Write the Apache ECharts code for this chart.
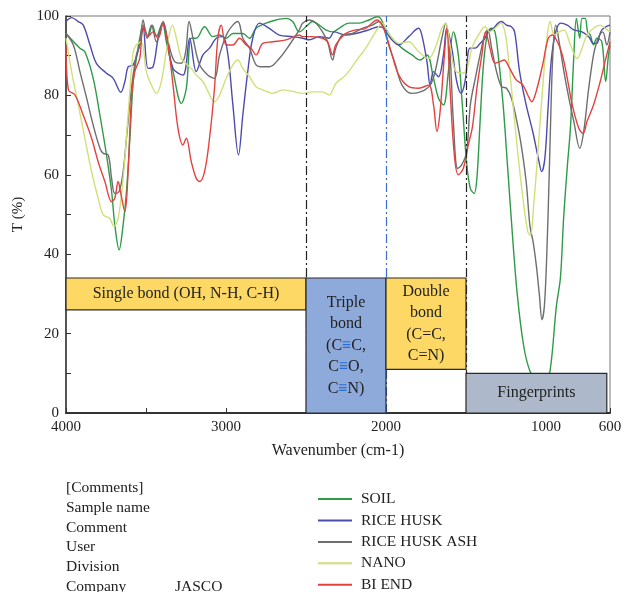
<!DOCTYPE html>
<html><head><meta charset="utf-8">
<script src="https://cdn.jsdelivr.net/npm/echarts@6/dist/echarts.min.js"></script>
<style>html,body{margin:0;padding:0;background:#fff}#c{width:632px;height:592px}</style>
</head><body><div id="c"></div>
<script>
const seriesNames = ['SOIL', 'RICE HUSK', 'RICE HUSK ASH', 'NANO', 'BI END'];
const seriesColors = ['#2f9a48', '#4b4cae', '#6e6e6e', '#d2df78', '#e5413f'];

// [wavenumber (cm-1), T (%)]
const soil = [[4000,95.6],[3913,91.9],[3882,91],[3830,84.3],[3788,75],[3747,65],[3715,55.8],[3695,47.4],[3668,41.1],[3643,47.4],[3622,55.8],[3601,69],[3580,83.5],[3560,89.3],[3539,94.4],[3518,97.7],[3487,94.8],[3460,97.7],[3435,94.8],[3398,98.2],[3373,93.5],[3331,86],[3279,78],[3248,81.8],[3217,94.4],[3186,94.4],[3134,97.3],[3082,94.8],[3040,95.2],[2999,94.4],[2957,95.6],[2895,95.6],[2853,94.4],[2812,96.9],[2750,98.2],[2687,99],[2625,99.4],[2583,98.6],[2542,96],[2490,97.7],[2459,98.6],[2417,97.7],[2376,96.5],[2334,96],[2293,96.9],[2231,98.2],[2169,98.2],[2107,99],[2055,99.8],[2034,99.4],[2003,96.9],[1962,94.4],[1900,91.9],[1838,90.2],[1786,88.9],[1744,90.2],[1703,84.3],[1672,79.3],[1641,77.6],[1610,86],[1579,96],[1548,90.2],[1523,77.6],[1496,63],[1473,56.6],[1449,55.3],[1432,59.1],[1412,73.4],[1391,87.7],[1364,96],[1340,96.9],[1319,96],[1299,90.2],[1268,77.6],[1240,62],[1210,45],[1180,30],[1140,17],[1100,10.5],[1070,9.5],[1000,9.5],[975,10.5],[935,27],[910,34],[890,49],[867,62],[847,72],[826,90],[810,99.4],[789,94.4],[775,99.4],[755,99.4],[740,96],[723,95.2],[703,92.7],[682,94.4],[651,93.5],[627,83.5],[610,90],[600,92.7]];

const riceHusk = [[4000,98.6],[3965,99.6],[3923,98.6],[3892,97.7],[3850,92.7],[3809,88],[3747,85.6],[3705,84.3],[3657,80.8],[3632,83.5],[3612,87.2],[3580,87.7],[3539,92.7],[3518,96.9],[3487,86.8],[3456,87.2],[3424,94.4],[3393,98.2],[3373,95.2],[3331,86.8],[3269,85.1],[3227,94.4],[3186,86],[3144,90.2],[3103,91.9],[3061,94.4],[3020,94.8],[2988,90.2],[2957,77.6],[2922,65],[2895,75],[2864,86],[2833,94.4],[2791,98.2],[2729,96.9],[2667,95.2],[2583,94.8],[2521,94.4],[2479,94],[2417,94.8],[2355,94.4],[2324,96],[2252,95.2],[2190,95.6],[2107,96.5],[2045,97.3],[2014,96.9],[1972,94.4],[1920,92.7],[1858,94.8],[1796,96.9],[1776,95.2],[1744,88.5],[1724,82.6],[1703,86],[1672,84.7],[1641,90.2],[1620,96.9],[1589,91.9],[1558,83.5],[1531,80.5],[1506,83.5],[1475,91.9],[1442,91.9],[1412,93.1],[1381,94.4],[1364,96],[1329,96.9],[1299,98.2],[1278,98.6],[1247,97.7],[1216,97.3],[1196,96],[1165,86],[1124,77.6],[1083,70.9],[1048,64.2],[1027,60.8],[1007,64.2],[986,77.6],[966,89.3],[939,96],[908,98.2],[867,97.7],[826,96.5],[775,96],[733,94.8],[703,93.1],[682,93.1],[665,95.2],[651,96.5],[625,97.3],[600,97.7]];

const riceHuskAsh = [[4000,95.6],[3954,92.7],[3913,86],[3871,79.3],[3830,72.5],[3788,66.7],[3767,65.4],[3736,65],[3715,59.1],[3695,55.3],[3668,55.8],[3643,60.8],[3622,69.2],[3591,81.8],[3560,90.2],[3539,92.7],[3518,99],[3493,94.4],[3466,97.7],[3435,93.5],[3393,98.6],[3362,93.5],[3321,88.5],[3279,88.1],[3252,91],[3231,98.6],[3206,94.4],[3165,87.7],[3113,85.1],[3072,84.3],[3040,90.2],[2988,96],[2926,98.6],[2895,94.4],[2853,91.9],[2812,87.7],[2770,87.2],[2729,87.2],[2667,89.3],[2604,92.7],[2542,96.5],[2521,98.2],[2479,99],[2438,98.2],[2397,96],[2365,93.5],[2334,88.9],[2314,91.9],[2272,95.2],[2210,95.6],[2148,96.9],[2086,97.7],[2045,98.6],[2014,96.9],[1983,92.7],[1941,87.7],[1900,82.6],[1838,80.5],[1776,81],[1724,82.6],[1693,86],[1651,94.4],[1627,98.2],[1600,90.2],[1579,73.4],[1552,61.6],[1527,62.5],[1496,65.8],[1473,77.6],[1442,84.3],[1412,90.2],[1381,95.6],[1364,96.5],[1340,91.9],[1309,86],[1278,82.2],[1247,81.8],[1216,79.3],[1186,74.2],[1155,67.5],[1124,58.3],[1100,47],[1080,43],[1060,37],[1042,30],[1025,23.5],[1010,27],[995,40],[980,60],[968,78],[955,92],[939,97.7],[918,93.5],[888,86],[857,79.3],[826,73.4],[789,66.7],[764,71],[733,81.8],[703,90.2],[682,93.5],[665,95.2],[645,96],[620,92.7],[600,96]];

const nano = [[4000,94.4],[3965,86],[3923,77.6],[3882,69.2],[3840,60.8],[3799,54.1],[3767,49.9],[3726,49],[3701,47],[3674,49],[3643,59.1],[3612,75],[3580,91],[3560,92.7],[3529,93.5],[3498,86],[3466,82.6],[3435,80.5],[3404,83.5],[3373,91],[3335,97.7],[3310,94.4],[3279,89.3],[3252,88.1],[3217,86.8],[3186,85.1],[3144,83.5],[3113,81],[3072,78.4],[3040,80.1],[2999,84.3],[2957,87.7],[2926,88.9],[2895,86.8],[2853,84.7],[2812,82.2],[2770,81.4],[2708,80.5],[2646,81.4],[2583,81],[2521,80.5],[2459,80.9],[2397,80.9],[2355,80.1],[2314,83],[2252,85.1],[2190,88.5],[2127,91.9],[2065,96],[2024,98.2],[1983,95.6],[1920,93.1],[1858,93.5],[1796,91],[1734,89.3],[1693,91.9],[1651,96.9],[1627,98.2],[1600,92.7],[1569,86.4],[1527,85.6],[1496,86.4],[1463,91.9],[1422,95.2],[1381,97.3],[1350,96],[1319,96.9],[1282,98.2],[1257,96],[1237,90.2],[1206,77.6],[1175,65],[1144,54.1],[1114,45.7],[1097,44.8],[1077,52.4],[1052,65],[1021,81.8],[994,94.4],[974,98.6],[949,95.2],[918,96],[888,96.5],[847,92.7],[805,89.3],[775,91.9],[744,95.2],[703,96.9],[661,97.7],[631,96.9],[600,96]];

const biEnd = [[4000,92.7],[3985,81.4],[3944,80.1],[3892,75],[3840,69.2],[3799,63.3],[3757,58.3],[3715,53.2],[3695,54.1],[3674,58.3],[3660,55.8],[3632,50.7],[3612,60.8],[3591,79.3],[3570,86],[3539,89.3],[3518,97.3],[3487,94.8],[3456,96],[3424,94.4],[3393,98.2],[3362,92.7],[3331,82.6],[3300,71.7],[3269,67.5],[3248,69.2],[3217,63.3],[3186,59.1],[3165,58.3],[3134,60.8],[3103,69.2],[3072,81.8],[3051,94.4],[3030,97.7],[2999,92.7],[2957,92.7],[2916,94.4],[2874,92.7],[2843,91.9],[2812,90.2],[2770,93.1],[2708,93.5],[2625,94],[2542,95.2],[2521,94.8],[2459,94.8],[2397,94.4],[2365,93.5],[2334,90.2],[2314,92.7],[2252,95.6],[2190,96.5],[2127,96.9],[2055,99],[2024,97.7],[1993,94.4],[1962,90.2],[1920,85.1],[1858,82.2],[1796,81.8],[1734,82.6],[1703,77.6],[1682,70.9],[1662,75.9],[1635,90.2],[1620,96.9],[1600,81.8],[1573,65],[1548,60],[1517,61.6],[1486,67.5],[1460,72],[1432,81.8],[1401,90.2],[1377,96],[1350,91.9],[1319,88.1],[1288,88.5],[1262,88.9],[1227,86.8],[1186,83.9],[1144,82.6],[1114,80.1],[1089,78.4],[1062,80.9],[1021,87.7],[986,94.4],[960,95.2],[929,93.5],[898,90.2],[867,84.3],[836,77.6],[795,71.7],[768,70.4],[744,73.4],[703,77.6],[661,83.5],[631,88.5],[600,93.5]];

const seriesData = [soil, riceHusk, riceHuskAsh, nano, biEnd];

const xTickValues = [4000, 3500, 3000, 2500, 2000, 1500, 1000, 600];
const xLabelValues = [4000, 3000, 2000, 1000, 600];
const regionLineValues = [2500, 2000, 1500];
const regionLineColors = ['#222', '#3a6fd0', '#222'];

// bond regions: [x from, x to, T from, T to]
const regionBounds = [[4000, 2500, 26, 34], [2500, 2000, 0, 34], [2000, 1500, 11, 34], [1500, 620, 0, 10]];
const regionFills = ['#fdd865', '#8eaadb', '#fdd865', '#adb9ca'];
const regionTexts = [
  'Single bond (OH, N-H, C-H)',
  'Triple\nbond\n(C{e|≡}C,\nC{e|≡}O,\nC{e|≡}N)',
  'Double\nbond\n(C=C,\nC=N)',
  'Fingerprints'
];

const FONT = '"Liberation Serif", "DejaVu Serif", serif';

const chart = echarts.init(document.getElementById('c'), null, {renderer: 'canvas'});

const lineSeries = seriesNames.map((n, i) => ({
  name: n, type: 'line', data: seriesData[i], showSymbol: false, symbol: 'none',
  smooth: 0.35, z: 2,
  lineStyle: {width: 1.4, color: seriesColors[i]}, itemStyle: {color: seriesColors[i]}
}));

const option = {
  animation: false,
  backgroundColor: '#fff',
  grid: {left: 66, right: 22, top: 16, bottom: 179, show: true, borderColor: '#777', borderWidth: 1, backgroundColor: 'transparent'},
  xAxis: {
    type: 'value', inverse: true, min: 600, max: 4000,
    name: 'Wavenumber (cm-1)', nameLocation: 'middle', nameGap: 30,
    nameTextStyle: {fontFamily: FONT, fontSize: 16, color: '#222'},
    axisLine: {show: true, lineStyle: {color: '#333', width: 2}},
    axisTick: {show: true, inside: true, length: 5, customValues: xTickValues, lineStyle: {color: '#333'}},
    axisLabel: {customValues: xLabelValues, fontFamily: FONT, fontSize: 15, color: '#222', margin: 7, formatter: v => String(v)},
    splitLine: {show: false}
  },
  yAxis: {
    type: 'value', min: 0, max: 100, interval: 10,
    name: 'T (%)', nameLocation: 'middle', nameGap: 38, nameRotate: 90,
    nameTextStyle: {fontFamily: FONT, fontSize: 15, color: '#222'},
    axisLine: {show: true, lineStyle: {color: '#333', width: 1.5}},
    axisTick: {show: true, inside: true, length: 5, lineStyle: {color: '#333'}},
    axisLabel: {fontFamily: FONT, fontSize: 15, color: '#222', margin: 7, formatter: v => (v % 20 === 0 ? String(v) : '')},
    splitLine: {show: false}
  },
  legend: {
    data: seriesNames, orient: 'vertical', left: 313, top: 486, height: 130,
    itemWidth: 34, itemHeight: 2, itemGap: 5.45, icon: 'rect',
    textStyle: {fontFamily: FONT, fontSize: 15.5, color: '#222', lineHeight: 16, padding: [0, 0, 0, 4]},
    selectedMode: false
  },
  graphic: [
    {type: 'text', left: 66, top: 478, style: {text: '[Comments]\nSample name\nComment\nUser\nDivision\nCompany', font: '15.5px ' + FONT, lineHeight: 19.8, fill: '#222'}},
    {type: 'text', left: 175, top: 577, style: {text: 'JASCO', font: '15.5px ' + FONT, lineHeight: 19.8, fill: '#222'}}
  ],
  series: [
    ...lineSeries,
    {
      name: 'regionLines', type: 'line', data: [], z: 1, silent: true,
      markLine: {
        silent: true, symbol: ['none', 'none'], label: {show: false},
        data: regionLineValues.map((v, i) => ({xAxis: v, lineStyle: {color: regionLineColors[i], width: 1.2, type: [9, 3, 2, 3]}}))
      }
    },
    {
      name: 'regions', type: 'custom', z: 5, silent: true,
      data: regionBounds.map((b, i) => [b[0], b[1], b[2], b[3], i]),
      encode: {x: [0, 1], y: [2, 3]},
      renderItem: (params, api) => {
        const i = api.value(4);
        const p0 = api.coord([api.value(0), api.value(3)]);
        const p1 = api.coord([api.value(1), api.value(2)]);
        const x = Math.min(p0[0], p1[0]), y = Math.min(p0[1], p1[1]);
        const w = Math.abs(p1[0] - p0[0]), h = Math.abs(p1[1] - p0[1]);
        return {
          type: 'group',
          children: [
            {type: 'rect', shape: {x: x, y: y, width: w, height: h}, style: {fill: regionFills[i], stroke: '#2a2a2a', lineWidth: 1.2}},
            {type: 'text', x: x + w / 2, y: y + h / 2, style: {
              text: regionTexts[i], align: 'center', verticalAlign: 'middle',
              font: '16px ' + FONT, fill: '#222', lineHeight: 21.5,
              rich: {e: {font: 'bold 16px ' + FONT, fill: '#2a6fd6', lineHeight: 21.5}}
            }}
          ]
        };
      }
    }
  ]
};
chart.setOption(option);
</script>
</body></html>
